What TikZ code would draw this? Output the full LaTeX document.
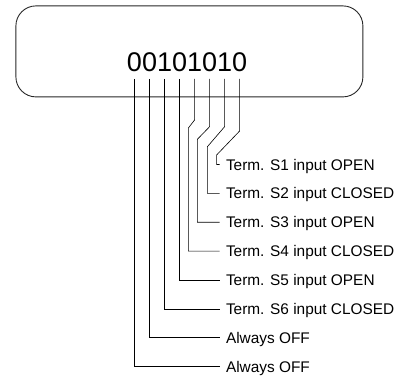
\documentclass[tikz,border=0pt]{standalone}
\usepackage{fontspec}
\setmainfont{Liberation Sans}
\usetikzlibrary{positioning}
\tikzset{
  panel/.style = {draw=black!85, line width=0.9pt, rounded corners=20pt,
                  minimum width=347pt, minimum height=91pt, inner sep=0pt},
  digit/.style = {font=\fontsize{27}{27}\selectfont, inner sep=0pt,
                  outer xsep=0pt, outer ysep=7pt, text height=19pt, text depth=0pt},
  lbl/.style   = {font=\fontsize{15.4}{15.4}\selectfont, anchor=west, inner sep=0pt,
                  outer xsep=6.5pt, outer ysep=0pt, text height=11pt, text depth=0pt},
  wire/.style  = {line width=0.6pt, color=black},
}

\begin{document}
\begin{tikzpicture}[x=1pt, y=-1pt]
  \useasboundingbox (0,0) rectangle (401,377);

  % Display panel
  \node[panel] (display) at (189.4,51.4) {};

  % Bit pattern
  \node[digit, anchor=base] (b7) at (134.5,72) {0};
  \node[digit, right=0pt of b7] (b6) {0};
  \node[digit, right=0pt of b6] (b5) {1};
  \node[digit, right=0pt of b5] (b4) {0};
  \node[digit, right=0pt of b4] (b3) {1};
  \node[digit, right=0pt of b3] (b2) {0};
  \node[digit, right=0pt of b2] (b1) {1};
  \node[digit, right=0pt of b1] (b0) {0};

  % Labels
  \node[lbl] (l0) at (219.5,164.5) {Term. S1 input OPEN};
  \node[lbl] (l1) at (219.5,193.4) {Term. S2 input CLOSED};
  \node[lbl] (l2) at (219.5,222.2) {Term. S3 input OPEN};
  \node[lbl] (l3) at (219.5,251.1) {Term. S4 input CLOSED};
  \node[lbl] (l4) at (219.5,279.9) {Term. S5 input OPEN};
  \node[lbl] (l5) at (219.5,308.8) {Term. S6 input CLOSED};
  \node[lbl] (l6) at (219.5,337.6) {Always OFF};
  \node[lbl] (l7) at (219.5,366.5) {Always OFF};

  % Bits to labels
  \draw[wire] (b0.south) -- ++(0,52)   -- ++(-23,24)    |- (l0.west);
  \draw[wire] (b1.south) -- ++(0,47.7) -- ++(-17.2,20)  |- (l1.west);
  \draw[wire] (b2.south) -- ++(0,47.7) -- ++(-12.2,12.6) |- (l2.west);
  \draw[wire] (b3.south) -- ++(0,41)   -- ++(-6.2,8)    |- (l3.west);
  \draw[wire] (b4.south) |- (l4.west);
  \draw[wire] (b5.south) |- (l5.west);
  \draw[wire] (b6.south) |- (l6.west);
  \draw[wire] (b7.south) |- (l7.west);

\end{tikzpicture}
\end{document}
